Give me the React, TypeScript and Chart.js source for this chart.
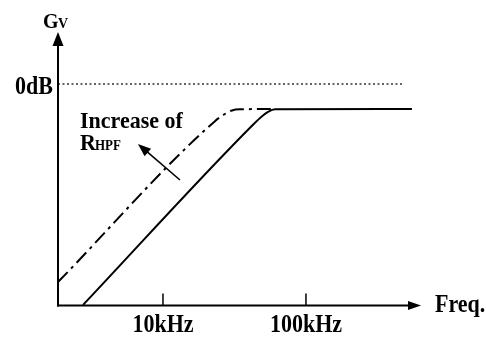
import React, { useEffect, useRef } from "react";
import { Chart, registerables } from "chart.js";

Chart.register(...registerables);

// Axis ranges (Hz, dB)
const X_MIN = 1844;
const X_MAX = 627600;
const Y_MIN = -30.98;
const Y_MAX = 7.27;

// Tick positions and labels
const TICK_VALUES = [10000, 100000];
const TICK_LABELS = ["10kHz", "100kHz"];

// Solid response
const FREQ_SOLID = [2760, 42600, 49300, 54300, 60800, 551000];
const GAIN_SOLID = [-30.9, -5.7, -4.5, -3.9, -3.55, -3.5];

// Dash-dot response (increased R_HPF)
const FREQ_DASH = [1844, 23100, 27100, 30400, 34600, 57900];
const GAIN_DASH = [-27.7, -5.2, -4.2, -3.7, -3.55, -3.5];

// 0 dB reference
const FREQ_REF = [1844, 476000];
const GAIN_REF = [0, 0];

// Annotation arrow (tail -> tip) in data coords
const ARROW_FREQ = [13150, 6683];
const ARROW_GAIN = [-13.43, -8.39];

const FONT = "'Liberation Serif', 'Times New Roman', serif";

function toPoints(xs: number[], ys: number[]) {
  return xs.map((x, i) => ({ x, y: ys[i] }));
}

function txt(
  ctx: CanvasRenderingContext2D,
  s: string,
  x: number,
  y: number,
  size: number,
  align: CanvasTextAlign = "left",
  sy = 1
) {
  ctx.save();
  ctx.font = `bold ${size}px ${FONT}`;
  ctx.textAlign = align;
  ctx.textBaseline = "alphabetic";
  ctx.fillStyle = "#000";
  ctx.translate(x, y);
  ctx.scale(1, sy);
  ctx.fillText(s, 0, 0);
  ctx.restore();
}

const decorPlugin = {
  id: "decor",
  afterDraw(chart: any) {
    const ctx: CanvasRenderingContext2D = chart.ctx;
    const { left, right, top, bottom } = chart.chartArea;
    const xs = chart.scales.x;
    const ys = chart.scales.y;
    ctx.save();
    ctx.strokeStyle = "#000";
    ctx.fillStyle = "#000";
    ctx.lineWidth = 2;
    // y axis
    ctx.beginPath();
    ctx.moveTo(left, bottom + 1);
    ctx.lineTo(left, top + 12);
    ctx.stroke();
    ctx.beginPath();
    ctx.moveTo(left, top);
    ctx.lineTo(left - 5.5, top + 14);
    ctx.lineTo(left + 5.5, top + 14);
    ctx.closePath();
    ctx.fill();
    // x axis
    ctx.beginPath();
    ctx.moveTo(left - 1, bottom);
    ctx.lineTo(right - 10, bottom);
    ctx.stroke();
    ctx.beginPath();
    ctx.moveTo(right + 1, bottom);
    ctx.lineTo(right - 12, bottom - 4.5);
    ctx.lineTo(right - 12, bottom + 4.5);
    ctx.closePath();
    ctx.fill();
    // ticks
    ctx.lineWidth = 1.5;
    TICK_VALUES.forEach((v, i) => {
      const px = xs.getPixelForValue(v);
      ctx.beginPath();
      ctx.moveTo(px, bottom - 12);
      ctx.lineTo(px, bottom);
      ctx.stroke();
      txt(ctx, TICK_LABELS[i], px, bottom + 26, 22, "center", 1.15);
    });
    // annotation arrow
    const x0 = xs.getPixelForValue(ARROW_FREQ[0]);
    const y0 = ys.getPixelForValue(ARROW_GAIN[0]);
    const x1 = xs.getPixelForValue(ARROW_FREQ[1]);
    const y1 = ys.getPixelForValue(ARROW_GAIN[1]);
    const ang = Math.atan2(y1 - y0, x1 - x0);
    ctx.lineWidth = 1.6;
    ctx.beginPath();
    ctx.moveTo(x0, y0);
    ctx.lineTo(x1 - 8 * Math.cos(ang), y1 - 8 * Math.sin(ang));
    ctx.stroke();
    ctx.beginPath();
    ctx.moveTo(x1, y1);
    ctx.lineTo(
      x1 - 13 * Math.cos(ang) + 5 * Math.sin(ang),
      y1 - 13 * Math.sin(ang) - 5 * Math.cos(ang)
    );
    ctx.lineTo(
      x1 - 13 * Math.cos(ang) - 5 * Math.sin(ang),
      y1 - 13 * Math.sin(ang) + 5 * Math.cos(ang)
    );
    ctx.closePath();
    ctx.fill();
    ctx.restore();

    // labels
    const zeroY = ys.getPixelForValue(0);
    txt(ctx, "0dB", left - 5, zeroY + 10, 22, "right", 1.15);
    txt(ctx, "G", 43, 28, 20, "left", 1.1);
    txt(ctx, "V", 58, 28, 14, "left", 1.1);
    txt(ctx, "Freq.", right + 15, bottom + 6, 22, "left", 1.1);
    txt(ctx, "Increase of", 80, 128, 22, "left", 1.05);
    txt(ctx, "R", 80, 150, 22, "left", 1.05);
    txt(ctx, "HPF", 95, 150, 13, "left", 1.05);
  },
};

export default function App() {
  const ref = useRef<HTMLCanvasElement | null>(null);
  useEffect(() => {
    if (!ref.current) return;
    const chart = new Chart(ref.current, {
      type: "line",
      data: {
        datasets: [
          {
            data: toPoints(FREQ_REF, GAIN_REF),
            borderColor: "#333",
            borderWidth: 1.5,
            borderDash: [2, 2.5],
            pointRadius: 0,
            clip: false as any,
          },
          {
            data: toPoints(FREQ_DASH, GAIN_DASH),
            borderColor: "#000",
            borderWidth: 2,
            borderDash: [14, 5, 3, 5],
            pointRadius: 0,
            cubicInterpolationMode: "monotone",
            clip: false as any,
          },
          {
            data: toPoints(FREQ_SOLID, GAIN_SOLID),
            borderColor: "#000",
            borderWidth: 2,
            pointRadius: 0,
            cubicInterpolationMode: "monotone",
            clip: false as any,
          },
        ],
      },
      options: {
        responsive: false,
        animation: false,
        layout: { padding: { left: 58, right: 66, top: 32, bottom: 31.5 } },
        plugins: { legend: { display: false }, tooltip: { enabled: false } },
        scales: {
          x: { type: "logarithmic", min: X_MIN, max: X_MAX, display: false },
          y: { type: "linear", min: Y_MIN, max: Y_MAX, display: false },
        },
      },
      plugins: [decorPlugin],
    });
    return () => chart.destroy();
  }, []);
  return (
    <div style={{ position: "fixed", left: 0, top: 0, width: 486, height: 337, background: "#fff" }}>
      <canvas ref={ref} width={486} height={337} />
    </div>
  );
}
